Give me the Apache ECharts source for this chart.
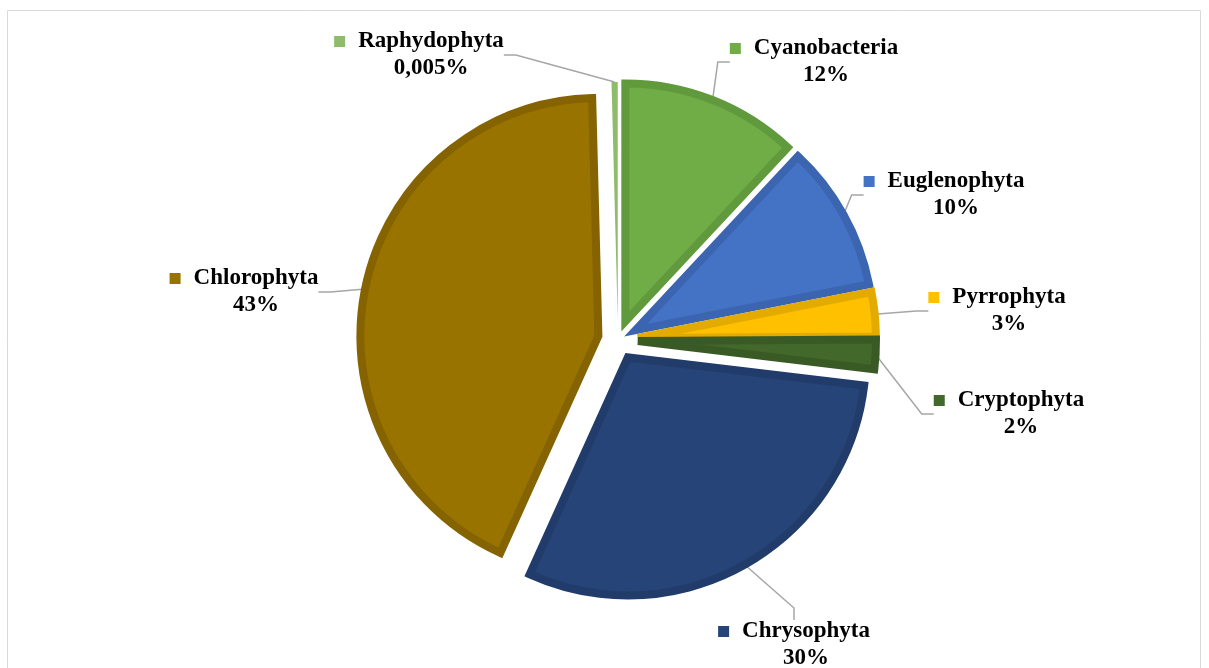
<!DOCTYPE html>
<html>
<head>
<meta charset="utf-8">
<script src="https://cdn.jsdelivr.net/npm/echarts@6/dist/echarts.min.js"></script>
<style>
  html, body { margin: 0; padding: 0; background: #fff; }
  #chart { width: 1209px; height: 668px; }
</style>
</head>
<body>
<div id="chart"></div>
<script>
// data, clockwise from 12 o'clock
var names = ["Cyanobacteria", "Euglenophyta", "Pyrrophyta", "Cryptophyta", "Chrysophyta", "Chlorophyta", "Raphydophyta"];
var values = [12, 10, 3, 2, 30, 43, 0.005];
var valueLabels = ["12%", "10%", "3%", "2%", "30%", "43%", "0,005%"];

var fills = ["#70ad47", "#4472c4", "#ffc000", "#43682b", "#264478", "#997300", "#8fbc6a"];
var borders = ["#619a3c", "#3b65b0", "#e3aa00", "#3a5a25", "#213c6a", "#846300", "#8fbc6a"];
// label block centres (layout only)
var labelPos = [[814, 62], [944, 195], [997, 311], [1009, 414], [794, 645], [244, 292], [419, 55]];

var rich = {
  gap: { width: 13 },
  name: { fontFamily: "Liberation Serif", fontWeight: "bold", fontSize: 23, color: "#000", lineHeight: 27 },
  val: { fontFamily: "Liberation Serif", fontWeight: "bold", fontSize: 23, color: "#000", lineHeight: 27, padding: [0, 0, 0, 24] }
};
fills.forEach(function (c, i) {
  rich["sq" + i] = { width: 11, height: 11, backgroundColor: c };
});

// exploded slices
var pieData = names.map(function (n, i) {
  var small = values[i] < 1;
  return {
    name: n,
    value: values[i],
    selected: true,
    itemStyle: { color: fills[i], borderColor: borders[i], borderWidth: small ? 0 : 8 }
  };
});

// invisible copy that carries the labels (select state would pin labels)
var labelData = names.map(function (n, i) {
  return { name: n, value: values[i] };
});

var chart = echarts.init(document.getElementById("chart"));
chart.setOption({
  animation: false,
  graphic: [{
    type: "rect",
    shape: { x: 7.5, y: 10.5, width: 1193, height: 700 },
    style: { fill: "none", stroke: "#d9d9d9", lineWidth: 1 },
    silent: true
  }],
  series: [{
    type: "pie",
    center: [618, 340],
    radius: [0, 238],
    startAngle: 90,
    clockwise: true,
    minAngle: 1.5,
    selectedMode: "multiple",
    selectedOffset: 20,
    emphasis: { disabled: true },
    itemStyle: { borderJoin: "miter" },
    label: { show: false },
    labelLine: { show: false },
    data: pieData
  }, {
    type: "pie",
    center: [618, 340],
    radius: [0, 258],
    startAngle: 90,
    clockwise: true,
    minAngle: 1.5,
    silent: true,
    avoidLabelOverlap: false,
    emphasis: { disabled: true },
    itemStyle: { color: "rgba(0,0,0,0)", borderWidth: 0 },
    label: {
      show: true,
      formatter: function (p) {
        var i = p.dataIndex;
        return "{sq" + i + "| }{gap|}{name|" + names[i] + "}\n{val|" + valueLabels[i] + "}";
      },
      rich: rich
    },
    labelLine: {
      show: true,
      length: 10,
      length2: 12,
      lineStyle: { color: "#a6a6a6", width: 1.5 }
    },
    labelLayout: function (p) {
      var pos = labelPos[p.dataIndex];
      return { x: pos[0], y: pos[1], align: "center", verticalAlign: "middle" };
    },
    data: labelData
  }]
});
</script>
</body>
</html>
